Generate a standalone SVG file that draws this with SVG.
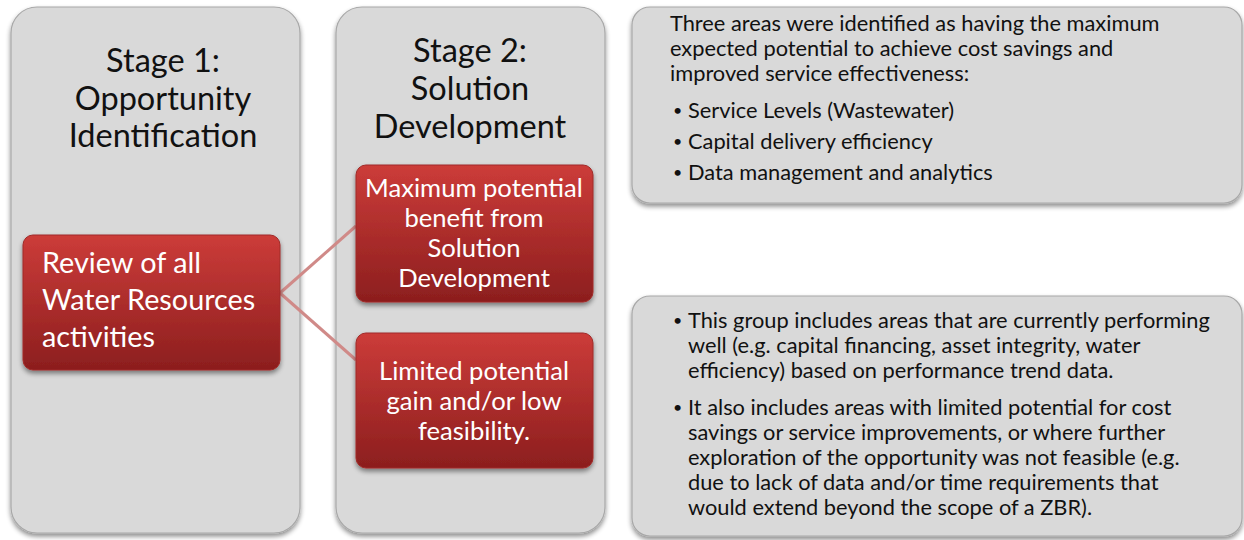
<svg xmlns="http://www.w3.org/2000/svg" width="1244" height="540" viewBox="0 0 1244 540">
  <defs>
    <linearGradient id="redFill" x1="0" y1="0" x2="0" y2="1">
      <stop offset="0" stop-color="#cc3c39"/>
      <stop offset="1" stop-color="#8c1e1e"/>
    </linearGradient>
    <filter id="shadow" x="-10%" y="-10%" width="120%" height="125%">
      <feGaussianBlur in="SourceAlpha" stdDeviation="2.5"/>
      <feOffset dx="0" dy="3" result="b"/>
      <feComponentTransfer><feFuncA type="linear" slope="0.45"/></feComponentTransfer>
      <feMerge><feMergeNode/><feMergeNode in="SourceGraphic"/></feMerge>
    </filter>
  </defs>
  <style>
    .panel { fill: #d9d9d9; stroke: #a8a8a8; stroke-width: 1.2; filter: url(#shadow); }
    .red { fill: url(#redFill); stroke: #a02a28; stroke-width: 1; filter: url(#shadow); }
    .title { font-family: Lato, "Open Sans", sans-serif; font-size: 32.5px; fill: #111; text-anchor: middle; }
    .wt { font-family: Lato, "Open Sans", sans-serif; fill: #ffffff; }
    .body { font-family: Lato, "Open Sans", sans-serif; font-size: 21.8px; fill: #111; }
    .dot { font-family: Lato, "Open Sans", sans-serif; font-size: 16px; fill: #111; }
    .conn { stroke: #d08a88; stroke-width: 3; fill: none; }
  </style>
  <rect width="1244" height="540" fill="#ffffff"/>

  <g id="stage1">
    <rect class="panel" x="11" y="7" width="289" height="526" rx="26"/>
    <text class="title"><tspan x="163" y="72">Stage 1:</tspan><tspan x="163" y="110">Opportunity</tspan><tspan x="163" y="147">Identification</tspan></text>
  </g>

  <g id="stage2">
    <rect class="panel" x="336" y="7" width="269" height="526" rx="26"/>
    <text class="title"><tspan x="470" y="62">Stage 2:</tspan><tspan x="470" y="100">Solution</tspan><tspan x="470" y="138">Development</tspan></text>
  </g>

  <g id="connectors">
    <line class="conn" x1="280" y1="293" x2="356" y2="226"/>
    <line class="conn" x1="280" y1="293" x2="356" y2="360"/>
  </g>

  <g id="review">
    <rect class="red" x="23" y="235" width="257" height="135" rx="10"/>
    <text class="wt" font-size="28.8"><tspan x="42" y="273">Review of all</tspan><tspan x="42" y="310">Water Resources</tspan><tspan x="42" y="347">activities</tspan></text>
  </g>

  <g id="maximum">
    <rect class="red" x="356" y="165" width="237" height="137" rx="10"/>
    <text class="wt" font-size="25.6" text-anchor="middle"><tspan x="474" y="197">Maximum potential</tspan><tspan x="474" y="227">benefit from</tspan><tspan x="474" y="257">Solution</tspan><tspan x="474" y="287">Development</tspan></text>
  </g>

  <g id="limited">
    <rect class="red" x="356" y="333" width="237" height="135" rx="10"/>
    <text class="wt" font-size="25.6" text-anchor="middle"><tspan x="474" y="380">Limited potential</tspan><tspan x="474" y="410">gain and/or low</tspan><tspan x="474" y="440">feasibility.</tspan></text>
  </g>

  <g id="maxNote">
    <rect class="panel" x="632" y="7" width="610" height="196" rx="18"/>
    <text class="body"><tspan x="670" y="31">Three areas were identified as having the maximum</tspan><tspan x="670" y="56">expected potential to achieve cost savings and</tspan><tspan x="670" y="81">improved service effectiveness:</tspan></text>
    <text class="dot"><tspan x="673" y="116">•</tspan><tspan x="673" y="147">•</tspan><tspan x="673" y="178">•</tspan></text>
    <text class="body"><tspan x="688" y="118">Service Levels (Wastewater)</tspan><tspan x="688" y="149">Capital delivery efficiency</tspan><tspan x="688" y="180">Data management and analytics</tspan></text>
  </g>

  <g id="limitedNote">
    <rect class="panel" x="632" y="296" width="610" height="240" rx="18"/>
    <text class="dot"><tspan x="673" y="326">•</tspan><tspan x="673" y="413">•</tspan></text>
    <text class="body"><tspan x="688" y="328">This group includes areas that are currently performing</tspan><tspan x="688" y="353">well (e.g. capital financing, asset integrity, water</tspan><tspan x="688" y="378">efficiency) based on performance trend data.</tspan></text>
    <text class="body"><tspan x="688" y="415">It also includes areas with limited potential for cost</tspan><tspan x="688" y="440">savings or service improvements, or where further</tspan><tspan x="688" y="465">exploration of the opportunity was not feasible (e.g.</tspan><tspan x="688" y="490">due to lack of data and/or time requirements that</tspan><tspan x="688" y="515">would extend beyond the scope of a ZBR).</tspan></text>
  </g>
</svg>
